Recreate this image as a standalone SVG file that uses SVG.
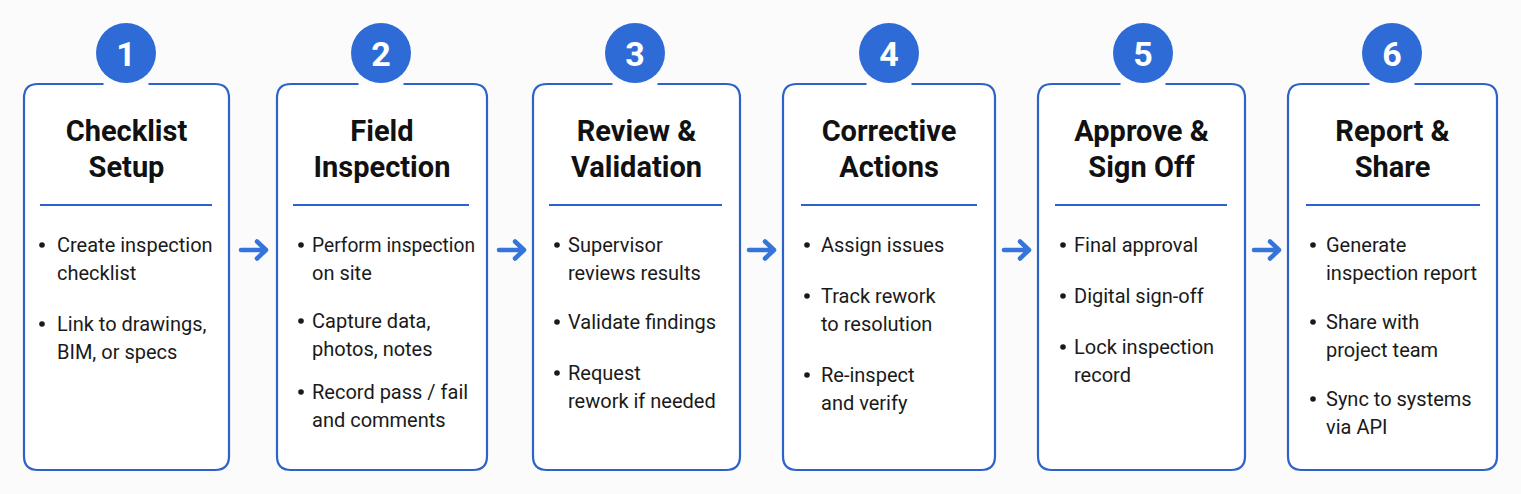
<svg xmlns="http://www.w3.org/2000/svg" width="1521" height="494" viewBox="0 0 1521 494">
<defs>
<style>
.card{fill:#ffffff;stroke:#2d63c8;stroke-width:2.2}
.div{stroke:#2d63c8;stroke-width:2}
.num-c{fill:#2f6bd6}
.num{font-family:Roboto,"Liberation Sans",sans-serif;font-weight:700;font-size:34px;fill:#ffffff;text-anchor:middle}
.title{font-family:Roboto,"Liberation Sans",sans-serif;font-weight:700;font-size:29px;fill:#111111;text-anchor:middle}
.body{font-family:Roboto,"Liberation Sans",sans-serif;font-size:20px;fill:#1a1a1a}
.bul{fill:#1a1a1a}
.arr{fill:none;stroke:#3574da;stroke-width:4.5;stroke-linecap:round;stroke-linejoin:round}
</style>
</defs>
<rect width="1521" height="494" fill="#fbfbfb"/>

<g id="step1">
<path class="card" d="M103.5,84 H38 Q24,84 24,98 V456 Q24,470 38,470 H215 Q229,470 229,456 V98 Q229,84 215,84 H148.5"/>
<circle class="num-c" cx="126" cy="53" r="30"/>
<text class="num" x="126" y="66">1</text>
<text class="title" x="126.5" y="141">Checklist</text>
<text class="title" x="126.5" y="177">Setup</text>
<line class="div" x1="40" y1="205" x2="212" y2="205"/>
<circle class="bul" cx="42" cy="245" r="2.8"/>
<text class="body" x="57" y="252">Create inspection</text>
<text class="body" x="57" y="280">checklist</text>
<circle class="bul" cx="42" cy="324" r="2.8"/>
<text class="body" x="57" y="331">Link to drawings,</text>
<text class="body" x="57" y="359">BIM, or specs</text>
</g>

<g id="step2">
<path class="card" d="M358.5,84 H291 Q277,84 277,98 V456 Q277,470 291,470 H473 Q487,470 487,456 V98 Q487,84 473,84 H403.5"/>
<circle class="num-c" cx="381" cy="53" r="30"/>
<text class="num" x="381" y="66">2</text>
<text class="title" x="382" y="141">Field</text>
<text class="title" x="382" y="177">Inspection</text>
<line class="div" x1="293" y1="205" x2="469" y2="205"/>
<circle class="bul" cx="301" cy="245" r="2.8"/>
<text class="body" x="312" y="252" textLength="163" lengthAdjust="spacingAndGlyphs">Perform inspection</text>
<text class="body" x="312" y="280">on site</text>
<circle class="bul" cx="301" cy="321" r="2.8"/>
<text class="body" x="312" y="328">Capture data,</text>
<text class="body" x="312" y="356">photos, notes</text>
<circle class="bul" cx="301" cy="392" r="2.8"/>
<text class="body" x="312" y="399">Record pass / fail</text>
<text class="body" x="312" y="427">and comments</text>
</g>

<g id="step3">
<path class="card" d="M612.5,84 H547 Q533,84 533,98 V456 Q533,470 547,470 H726 Q740,470 740,456 V98 Q740,84 726,84 H657.5"/>
<circle class="num-c" cx="635" cy="53" r="30"/>
<text class="num" x="635" y="66">3</text>
<text class="title" x="636.5" y="141">Review &amp;</text>
<text class="title" x="636.5" y="177">Validation</text>
<line class="div" x1="549" y1="205" x2="722" y2="205"/>
<circle class="bul" cx="557" cy="245" r="2.8"/>
<text class="body" x="568" y="252">Supervisor</text>
<text class="body" x="568" y="280">reviews results</text>
<circle class="bul" cx="557" cy="322" r="2.8"/>
<text class="body" x="568" y="329">Validate findings</text>
<circle class="bul" cx="557" cy="373" r="2.8"/>
<text class="body" x="568" y="380">Request</text>
<text class="body" x="568" y="408">rework if needed</text>
</g>

<g id="step4">
<path class="card" d="M866.5,84 H797 Q783,84 783,98 V456 Q783,470 797,470 H981 Q995,470 995,456 V98 Q995,84 981,84 H911.5"/>
<circle class="num-c" cx="889" cy="53" r="30"/>
<text class="num" x="889" y="66">4</text>
<text class="title" x="889" y="141">Corrective</text>
<text class="title" x="889" y="177">Actions</text>
<line class="div" x1="801" y1="205" x2="977" y2="205"/>
<circle class="bul" cx="807" cy="245" r="2.8"/>
<text class="body" x="821" y="252">Assign issues</text>
<circle class="bul" cx="807" cy="296" r="2.8"/>
<text class="body" x="821" y="303">Track rework</text>
<text class="body" x="821" y="331">to resolution</text>
<circle class="bul" cx="807" cy="375" r="2.8"/>
<text class="body" x="821" y="382">Re-inspect</text>
<text class="body" x="821" y="410">and verify</text>
</g>

<g id="step5">
<path class="card" d="M1120.5,84 H1052 Q1038,84 1038,98 V456 Q1038,470 1052,470 H1231 Q1245,470 1245,456 V98 Q1245,84 1231,84 H1165.5"/>
<circle class="num-c" cx="1143" cy="53" r="30"/>
<text class="num" x="1143" y="66">5</text>
<text class="title" x="1141.5" y="141">Approve &amp;</text>
<text class="title" x="1141.5" y="177">Sign Off</text>
<line class="div" x1="1055" y1="205" x2="1227" y2="205"/>
<circle class="bul" cx="1063" cy="245" r="2.8"/>
<text class="body" x="1074" y="252">Final approval</text>
<circle class="bul" cx="1063" cy="296" r="2.8"/>
<text class="body" x="1074" y="303">Digital sign-off</text>
<circle class="bul" cx="1063" cy="347" r="2.8"/>
<text class="body" x="1074" y="354">Lock inspection</text>
<text class="body" x="1074" y="382">record</text>
</g>

<g id="step6">
<path class="card" d="M1369.5,84 H1302 Q1288,84 1288,98 V456 Q1288,470 1302,470 H1483 Q1497,470 1497,456 V98 Q1497,84 1483,84 H1414.5"/>
<circle class="num-c" cx="1392" cy="53" r="30"/>
<text class="num" x="1392" y="66">6</text>
<text class="title" x="1392.5" y="141">Report &amp;</text>
<text class="title" x="1392.5" y="177">Share</text>
<line class="div" x1="1306" y1="205" x2="1480" y2="205"/>
<circle class="bul" cx="1313" cy="245" r="2.8"/>
<text class="body" x="1326" y="252">Generate</text>
<text class="body" x="1326" y="280">inspection report</text>
<circle class="bul" cx="1313" cy="322" r="2.8"/>
<text class="body" x="1326" y="329">Share with</text>
<text class="body" x="1326" y="357">project team</text>
<circle class="bul" cx="1313" cy="399" r="2.8"/>
<text class="body" x="1326" y="406">Sync to systems</text>
<text class="body" x="1326" y="434">via API</text>
</g>

<g id="connectors">
<path class="arr" d="M241,250 H265 M257,241.5 L266,250 L257,258.5"/>
<path class="arr" d="M499,250 H523 M515,241.5 L524,250 L515,258.5"/>
<path class="arr" d="M749,250 H773 M765,241.5 L774,250 L765,258.5"/>
<path class="arr" d="M1004,250 H1028 M1020,241.5 L1029,250 L1020,258.5"/>
<path class="arr" d="M1254,250 H1278 M1270,241.5 L1279,250 L1270,258.5"/>
</g>
</svg>
